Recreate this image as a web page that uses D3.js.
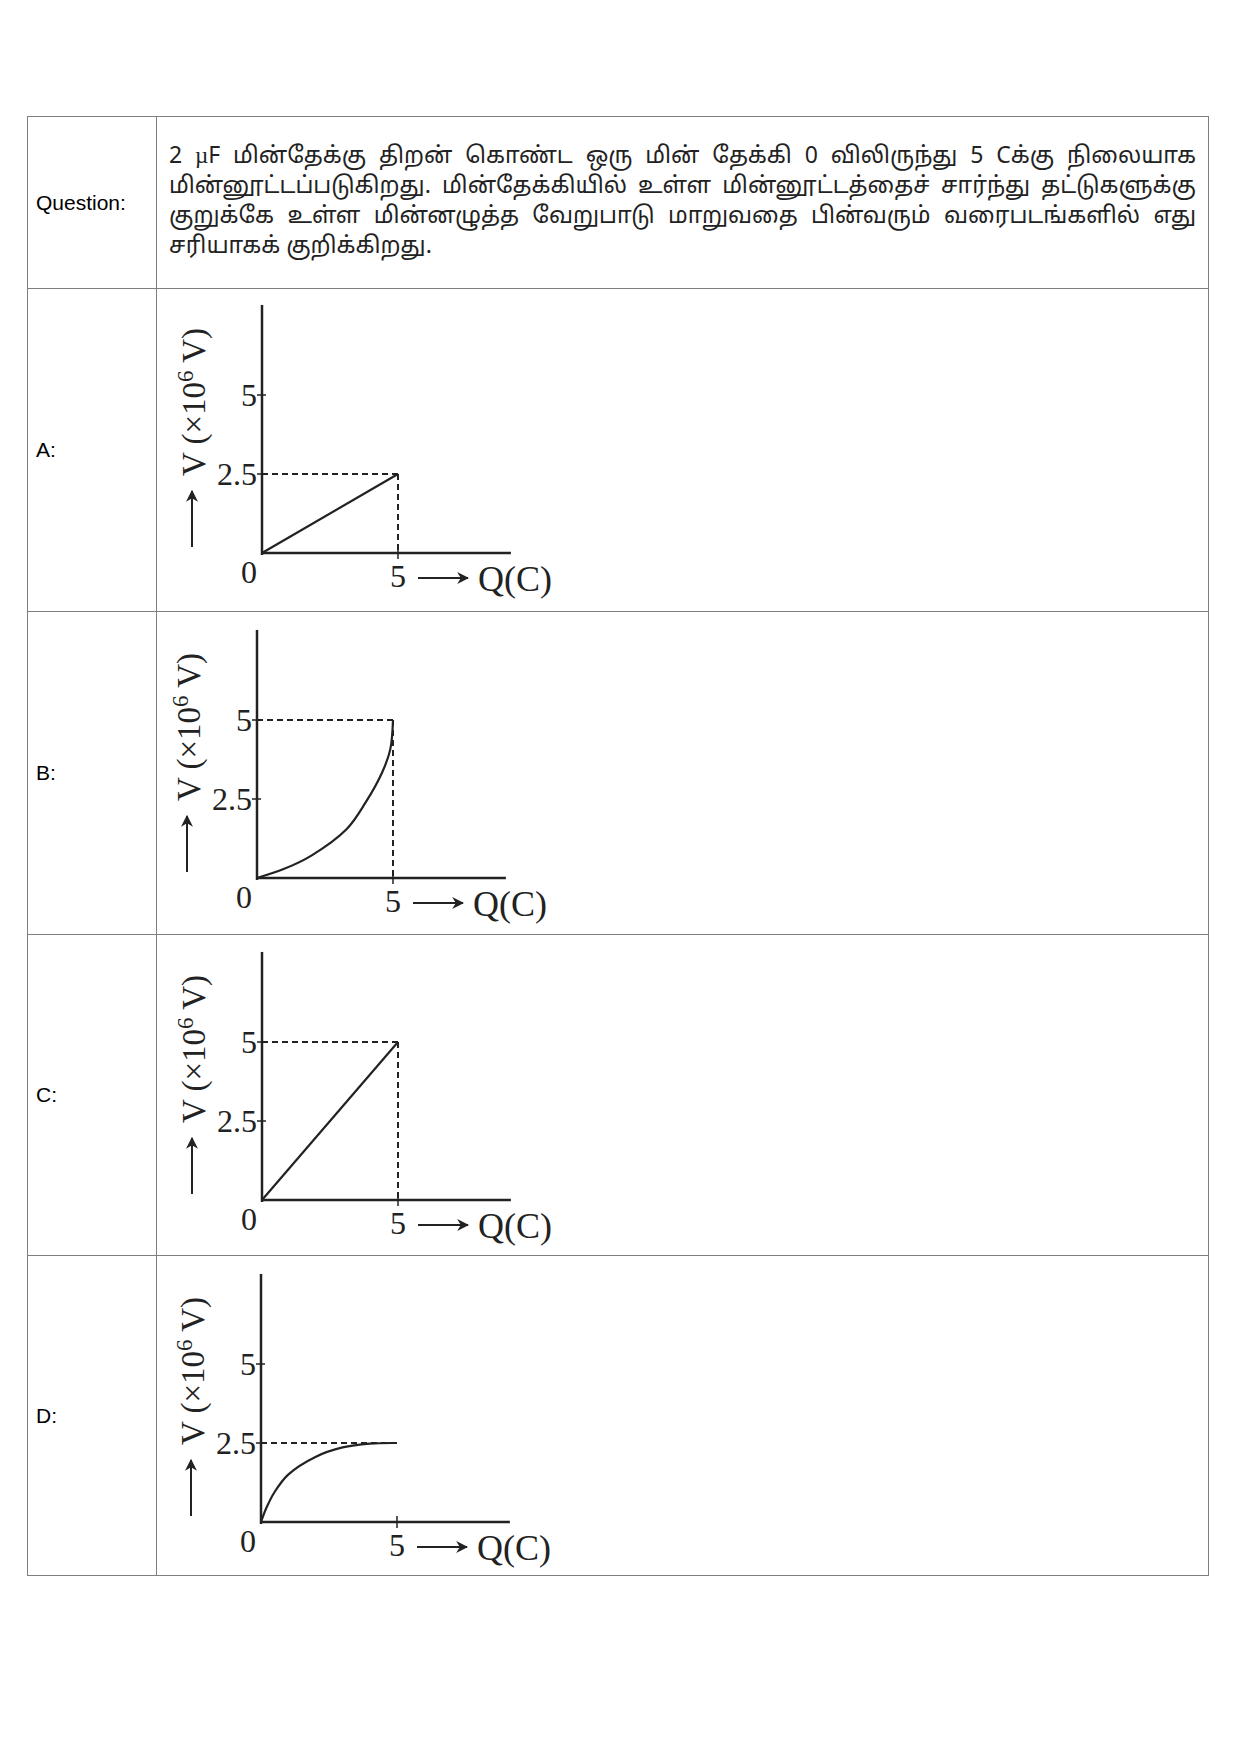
<!DOCTYPE html>
<html>
<head>
<meta charset="utf-8">
<script src="https://cdn.jsdelivr.net/npm/d3@7"></script>
<style>
  body { margin: 0; background: #fff; width: 1240px; height: 1754px; position: relative; }
  table { position: absolute; left: 27px; top: 116px; width: 1182px; border-collapse: collapse; font-family: Arial, "Liberation Sans", sans-serif; font-size: 21px; }
  td { border: 1px solid #7f7f7f; vertical-align: middle; padding: 0; }
  td.lab { width: 129px; padding-left: 8px; box-sizing: border-box; }
  .q { font-family: "Noto Sans Tamil", "Latha", serif; font-size: 23px; line-height: 30px; text-align: justify; padding: 8px 12px 8px 12px; color: #222; }
  svg { position: absolute; left: 0; top: 0; }
</style>
</head>
<body>
<script>
var questionText = "2 \u00b5F மின்தேக்கு திறன் கொண்ட ஒரு மின் தேக்கி 0 விலிருந்து 5 Cக்கு நிலையாக மின்னூட்டப்படுகிறது. மின்தேக்கியில் உள்ள மின்னூட்டத்தைச் சார்ந்து தட்டுகளுக்கு குறுக்கே உள்ள மின்னழுத்த வேறுபாடு மாறுவதை பின்வரும் வரைபடங்களில் எது சரியாகக் குறிக்கிறது.";
var optionLabels = ["A:", "B:", "C:", "D:"];
var rowHeights = [172, 323, 323, 321, 320];

// series: charge Q (C) vs voltage V (x10^6 V)
var qA = [0, 5];           var vA = [0, 2.5];
var qB = [0, 1, 2, 3.3, 4, 4.6, 4.9, 5];   var vB = [0, 0.29, 0.71, 1.55, 2.4, 3.34, 4.07, 5];
var qC = [0, 5];           var vC = [0, 5];
var qD = [0, 0.2, 0.5, 1, 2, 3, 4, 5];     var vD = [0, 0.45, 0.95, 1.5, 2.06, 2.36, 2.48, 2.5];
var yTicks = [2.5, 5];
var xTicks = [5];

var panels = [
  {q: qA, v: vA, ox: 262, oy: 553, vert: true},
  {q: qB, v: vB, ox: 257, oy: 878, vert: true},
  {q: qC, v: vC, ox: 262, oy: 1200, vert: true},
  {q: qD, v: vD, ox: 261, oy: 1522, vert: false}
];

var table = d3.select("body").append("table");
var r0 = table.append("tr").style("height", rowHeights[0] + "px");
r0.append("td").attr("class", "lab").text("Question:");
r0.append("td").append("div").attr("class", "q").text(questionText);
optionLabels.forEach(function(l, i) {
  var r = table.append("tr").style("height", rowHeights[i + 1] + "px");
  r.append("td").attr("class", "lab").text(l);
  r.append("td");
});

var svg = d3.select("body").append("svg").attr("width", 1240).attr("height", 1754);
var defs = svg.append("defs");
defs.append("marker").attr("id", "arr").attr("viewBox", "0 0 10 10").attr("refX", 9).attr("refY", 5)
  .attr("markerWidth", 6).attr("markerHeight", 6).attr("markerUnits", "strokeWidth").attr("orient", "auto")
  .append("path").attr("d", "M0,0L10,5L0,10L3,5z").attr("fill", "#222").attr("stroke", "none");

var x = d3.scaleLinear().domain([0, 5]).range([0, 136]);
var y = d3.scaleLinear().domain([0, 5]).range([0, -158]);
var serif = "'Liberation Serif', 'DejaVu Serif', serif";

panels.forEach(function(p) {
  var g = svg.append("g").attr("transform", "translate(" + p.ox + "," + p.oy + ")")
    .attr("stroke", "#222").attr("fill", "none");
  var vEnd = p.v[p.v.length - 1];

  // dashed guides
  g.append("line").attr("x1", 0).attr("x2", x(5)).attr("y1", y(vEnd)).attr("y2", y(vEnd))
    .attr("stroke-width", 2).attr("stroke-dasharray", "6,4");
  if (p.vert) {
    g.append("line").attr("x1", x(5)).attr("x2", x(5)).attr("y1", y(vEnd)).attr("y2", 0)
      .attr("stroke-width", 2).attr("stroke-dasharray", "6,4");
  }

  // axes
  g.append("line").attr("x1", 0).attr("x2", 0).attr("y1", 2).attr("y2", y(7.85)).attr("stroke-width", 2.5);
  g.append("line").attr("x1", 0).attr("x2", x(9.15)).attr("y1", 0).attr("y2", 0).attr("stroke-width", 2.5);
  yTicks.forEach(function(t) {
    g.append("line").attr("x1", -5).attr("x2", 4).attr("y1", y(t)).attr("y2", y(t)).attr("stroke-width", 1.5);
    g.append("text").attr("x", -5).attr("y", y(t) + 11).attr("text-anchor", "end")
      .attr("stroke", "none").attr("fill", "#222").style("font-family", serif).style("font-size", "32px")
      .text(t);
  });
  xTicks.forEach(function(t) {
    g.append("line").attr("x1", x(t)).attr("x2", x(t)).attr("y1", -6).attr("y2", 6).attr("stroke-width", 1.5);
    g.append("text").attr("x", x(t)).attr("y", 34).attr("text-anchor", "middle")
      .attr("stroke", "none").attr("fill", "#222").style("font-family", serif).style("font-size", "32px")
      .text(t);
  });
  g.append("text").attr("x", -13).attr("y", 30).attr("text-anchor", "middle")
    .attr("stroke", "none").attr("fill", "#222").style("font-family", serif).style("font-size", "32px").text("0");

  // x label
  g.append("line").attr("x1", x(5) + 20).attr("x2", x(5) + 70).attr("y1", 25).attr("y2", 25)
    .attr("stroke-width", 2).attr("marker-end", "url(#arr)");
  g.append("text").attr("x", x(5) + 80).attr("y", 38)
    .attr("stroke", "none").attr("fill", "#222").style("font-family", serif).style("font-size", "36px").text("Q(C)");

  // y label
  g.append("line").attr("x1", -70).attr("x2", -70).attr("y1", -6).attr("y2", -62)
    .attr("stroke-width", 2).attr("marker-end", "url(#arr)");
  var yl = g.append("text").attr("transform", "translate(-57,-151) rotate(-90)").attr("text-anchor", "middle")
    .attr("stroke", "none").attr("fill", "#222").style("font-family", serif).style("font-size", "33px");
  yl.append("tspan").text("V (\u00d710");
  yl.append("tspan").attr("dy", -12).style("font-size", "23px").text("6");
  yl.append("tspan").attr("dy", 12).text(" V)");

  // data curve
  var line = d3.line().x(function(d) { return x(d[0]); }).y(function(d) { return y(d[1]); }).curve(d3.curveCatmullRom);
  g.append("path").datum(d3.zip(p.q, p.v)).attr("d", line).attr("stroke-width", 2.2);
});
</script>
</body>
</html>
